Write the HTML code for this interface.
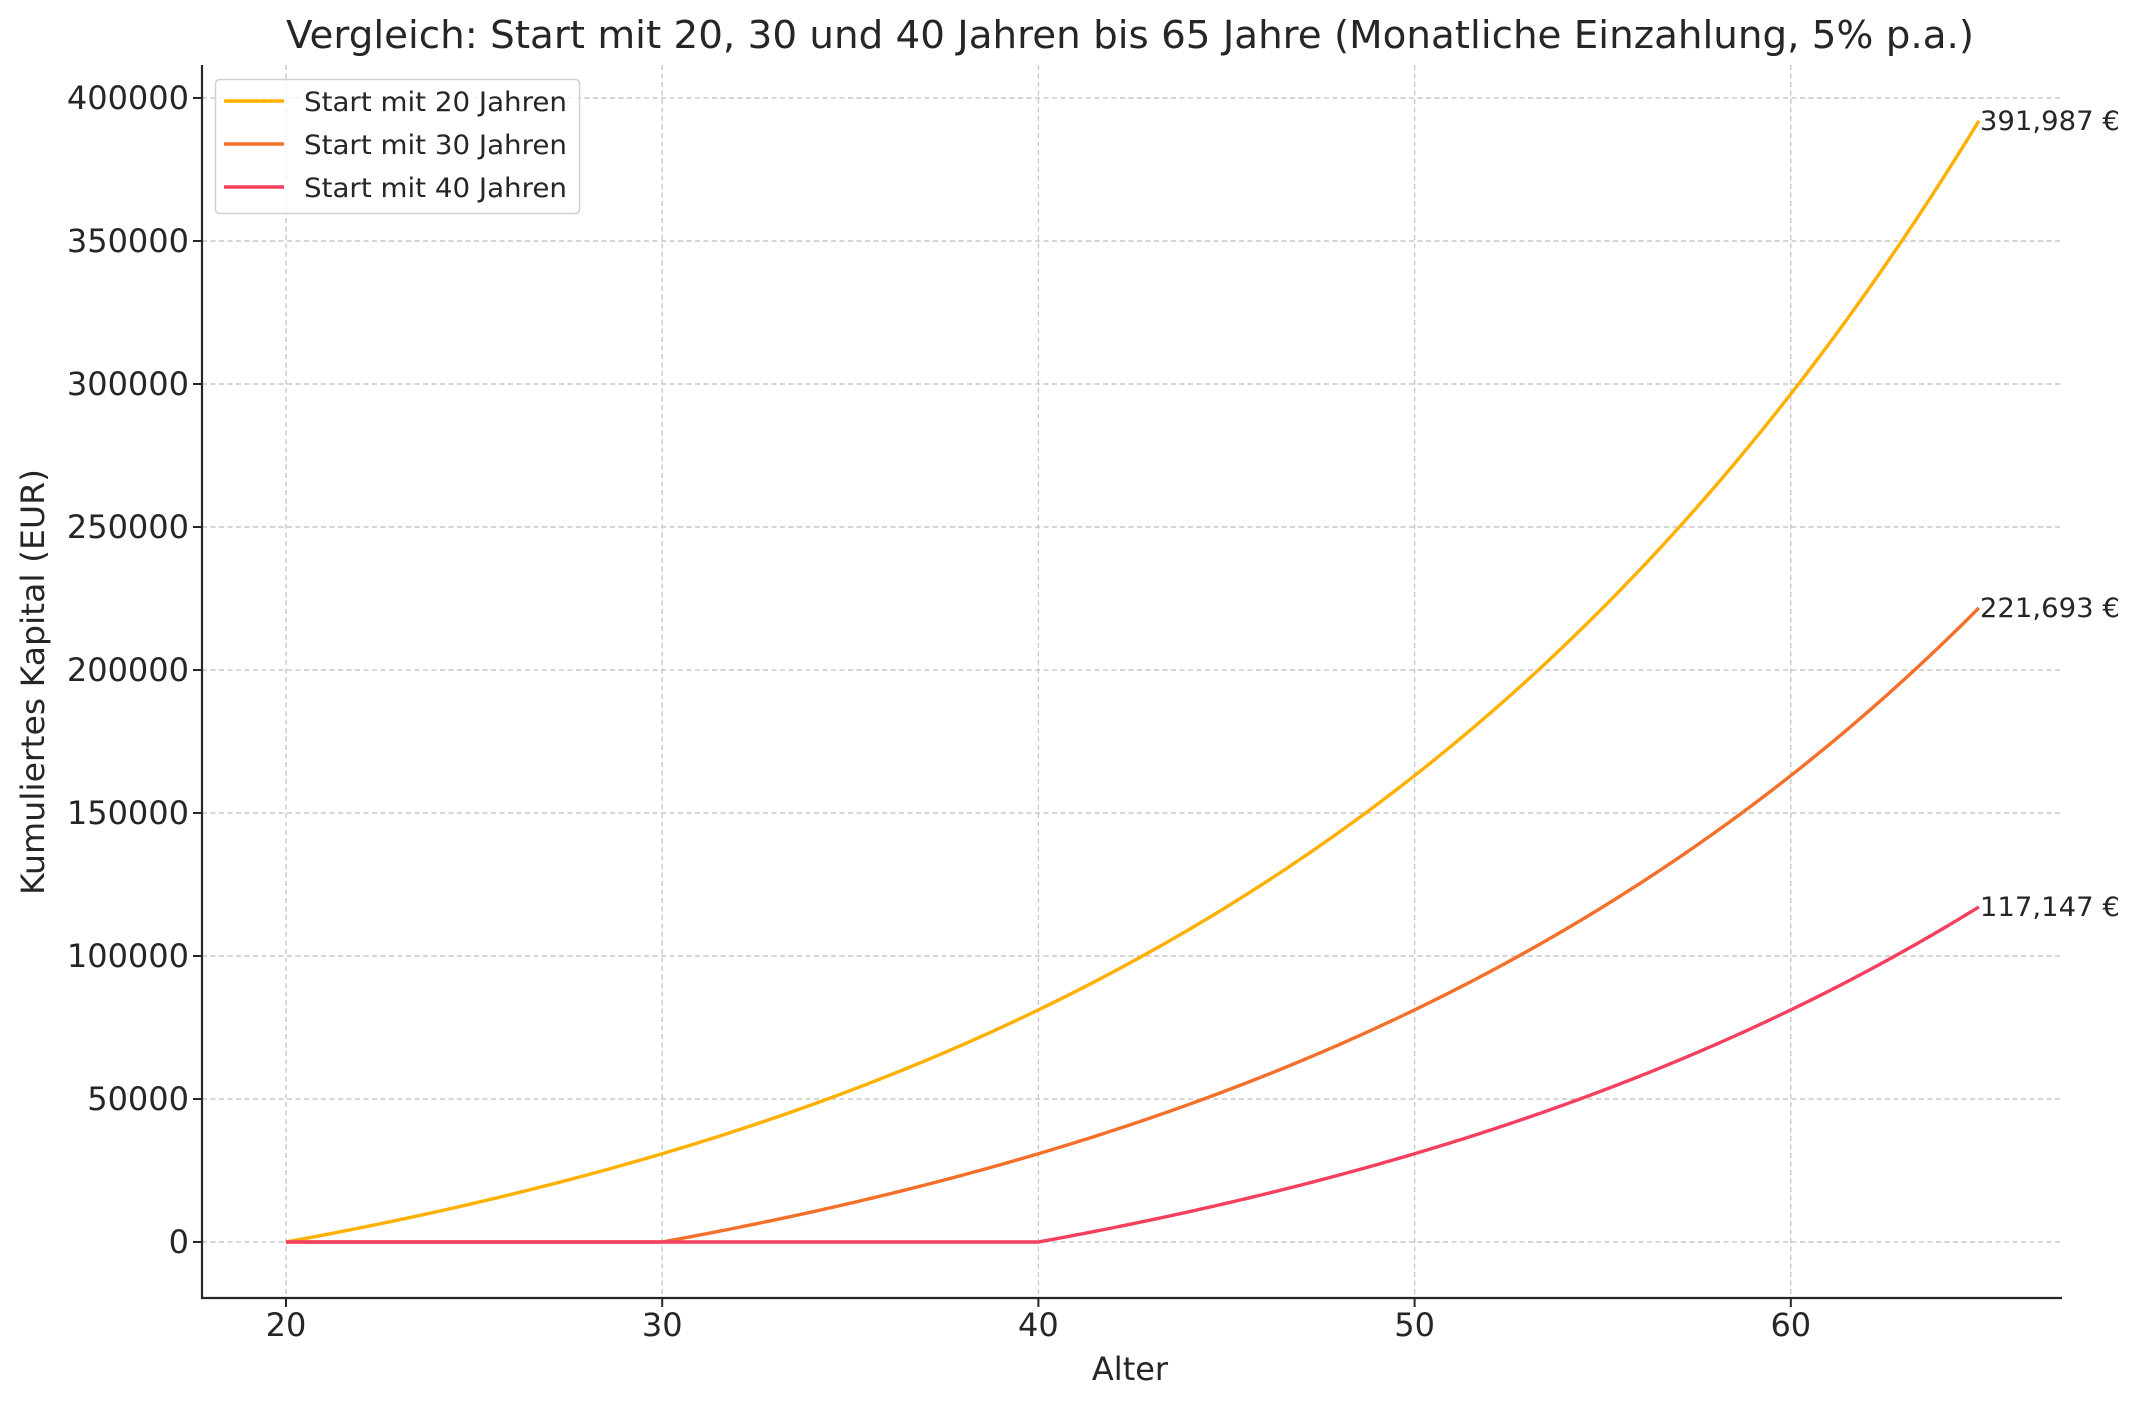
<!DOCTYPE html>
<html><head><meta charset="utf-8"><style>
html,body{margin:0;padding:0;background:#fff}
svg text{font-family:"DejaVu Sans","Liberation Sans",sans-serif;fill:#262626}
</style></head><body>
<svg id="s" width="2138" height="1405" xmlns="http://www.w3.org/2000/svg">
<rect width="2138" height="1405" fill="#fff"/>
<g id="grid" stroke="#c8c8c8" stroke-width="1.4" stroke-dasharray="5,3.5"></g>
<g id="ticks"></g>
<path id="p1" fill="none" stroke="#FFB000" stroke-width="3.4"/>
<path id="p2" fill="none" stroke="#F4702A" stroke-width="3.4"/>
<path id="p3" fill="none" stroke="#F43F5E" stroke-width="3.4"/>
<line x1="202" y1="65" x2="202" y2="1298" stroke="#262626" stroke-width="2.2"/>
<line x1="201" y1="1298" x2="2062" y2="1298" stroke="#262626" stroke-width="2.2"/>
<text x="1130" y="48" font-size="38" text-anchor="middle" textLength="1688" lengthAdjust="spacingAndGlyphs">Vergleich: Start mit 20, 30 und 40 Jahren bis 65 Jahre (Monatliche Einzahlung, 5% p.a.)</text>
<text x="1130" y="1380" font-size="32" text-anchor="middle">Alter</text>
<text transform="translate(44,682) rotate(-90)" font-size="32" text-anchor="middle" textLength="426" lengthAdjust="spacingAndGlyphs">Kumuliertes Kapital (EUR)</text>
<rect x="215.5" y="79.5" width="364" height="134" rx="4" fill="#fff" fill-opacity="0.8" stroke="#d0d0d0" stroke-width="1.5"/>
<line x1="224" y1="101" x2="284" y2="101" stroke="#FFB000" stroke-width="3.4"/>
<line x1="224" y1="144" x2="284" y2="144" stroke="#F4702A" stroke-width="3.4"/>
<line x1="224" y1="187" x2="284" y2="187" stroke="#F43F5E" stroke-width="3.4"/>
<text x="304" y="111" font-size="27" textLength="263" lengthAdjust="spacingAndGlyphs">Start mit 20 Jahren</text>
<text x="304" y="154" font-size="27" textLength="263" lengthAdjust="spacingAndGlyphs">Start mit 30 Jahren</text>
<text x="304" y="197" font-size="27" textLength="263" lengthAdjust="spacingAndGlyphs">Start mit 40 Jahren</text>
<g id="ann"></g>
</svg>
<script>
var NS="http://www.w3.org/2000/svg";
function X(a){return 286+(a-20)*37.62;}
function Y(v){return 1242-v*(1242-98)/400000;}
function el(t,at,p,txt){var e=document.createElementNS(NS,t);for(var k in at)e.setAttribute(k,at[k]);if(txt!==undefined)e.textContent=txt;p.appendChild(e);return e;}
var g=document.getElementById('grid'),tk=document.getElementById('ticks');
for(var a=20;a<=60;a+=10){var x=X(a);el('line',{x1:x,y1:65,x2:x,y2:1298},g);el('line',{x1:x,y1:1298,x2:x,y2:1307,stroke:'#262626','stroke-width':2},tk);el('text',{x:x,y:1336,'font-size':32,'text-anchor':'middle'},tk,String(a));}
for(var v=0;v<=400000;v+=50000){var y=Y(v);el('line',{x1:202,y1:y,x2:2062,y2:y},g);el('line',{x1:193,y1:y,x2:202,y2:y,stroke:'#262626','stroke-width':2},tk);el('text',{x:189,y:y+11,'font-size':32,'text-anchor':'end'},tk,String(v));}
var r=Math.pow(1.05,1/12)-1;
function val(a,s){if(a<=s)return 0;var n=(a-s)*12;return 200*(Math.pow(1+r,n)-1)/r;}
var ids=['p1','p2','p3'],starts=[20,30,40],ann=document.getElementById('ann');
for(var i=0;i<3;i++){var d='';for(var m=0;m<=540;m++){var a=20+m/12;d+=(m?'L':'M')+X(a).toFixed(2)+','+Y(val(a,starts[i])).toFixed(2);}
document.getElementById(ids[i]).setAttribute('d',d);
var f=val(65,starts[i]);el('text',{x:X(65)+1,y:Y(f)+9,'font-size':27,textLength:140,lengthAdjust:'spacingAndGlyphs'},ann,Math.round(f).toLocaleString('en-US')+' €');}
</script>
</body></html>
